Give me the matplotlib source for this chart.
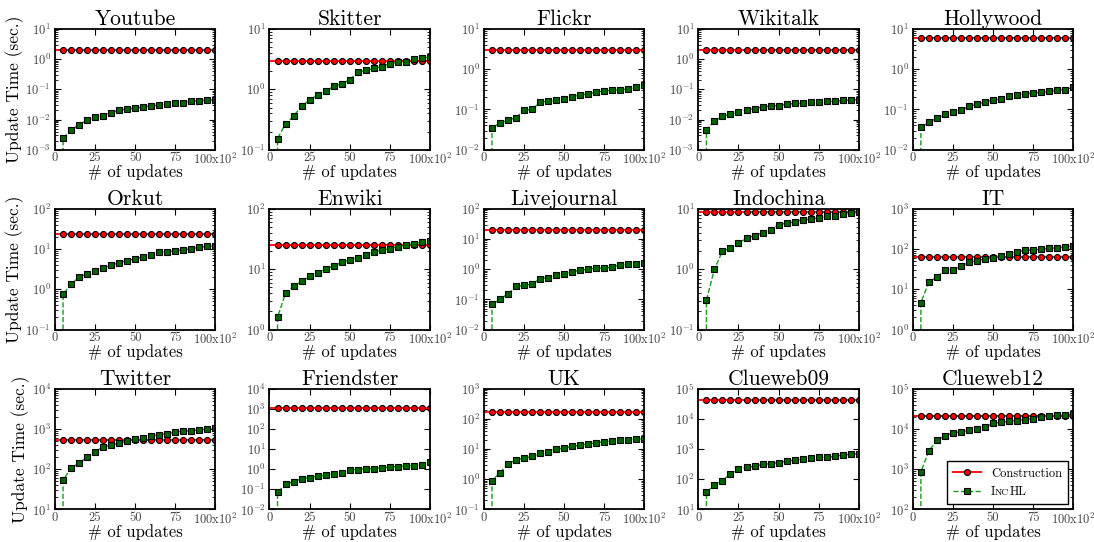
import numpy as np
import matplotlib
matplotlib.use("Agg")
import matplotlib.pyplot as plt
from matplotlib.ticker import LogLocator
from matplotlib.offsetbox import TextArea, HPacker

plt.rcParams["font.family"] = ["cmr10", "DejaVu Serif"]
plt.rcParams["mathtext.fontset"] = "cm"
plt.rcParams["axes.formatter.use_mathtext"] = True
plt.rcParams["axes.unicode_minus"] = False

# number of updates (x100)
updates = [0, 5, 10, 15, 20, 25, 30, 35, 40, 45, 50, 55, 60, 65, 70, 75, 80, 85, 90, 95, 100]

datasets = ["Youtube", "Skitter", "Flickr", "Wikitalk", "Hollywood",
            "Orkut", "Enwiki", "Livejournal", "Indochina", "IT",
            "Twitter", "Friendster", "UK", "Clueweb09", "Clueweb12"]

# construction time (sec.), constant over updates
construction = [2.05, 3.0, 3.0, 2.05, 5.9,
                24, 25, 19.4, 9.0, 65,
                545, 1080, 172, 44000, 20800]

# IncHL accumulated update time (sec.) at 5,10,...,100 (x100 updates)
inchl_youtube = [0.0024, 0.0045, 0.0068, 0.0095, 0.0117, 0.0136, 0.0171, 0.0205, 0.0222, 0.024,
                 0.026, 0.028, 0.030, 0.0316, 0.034, 0.036, 0.040, 0.042, 0.0437, 0.046]
inchl_skitter = [0.152, 0.27, 0.357, 0.53, 0.66, 0.82, 0.93, 1.12, 1.23, 1.45,
                 1.91, 2.06, 2.23, 2.38, 2.66, 2.8, 2.87, 3.14, 3.26, 3.43]
inchl_flickr = [0.035, 0.046, 0.054, 0.063, 0.096, 0.1, 0.15, 0.162, 0.168, 0.181,
                0.21, 0.227, 0.245, 0.27, 0.29, 0.3, 0.31, 0.32, 0.355, 0.4]
inchl_wikitalk = [0.0046, 0.0088, 0.0129, 0.015, 0.0175, 0.021, 0.023, 0.026, 0.028, 0.029,
                  0.032, 0.034, 0.034, 0.037, 0.037, 0.040, 0.040, 0.043, 0.044, 0.046]
inchl_hollywood = [0.036, 0.048, 0.061, 0.076, 0.088, 0.096, 0.119, 0.136, 0.155, 0.171,
                   0.18, 0.215, 0.228, 0.246, 0.256, 0.266, 0.28, 0.3, 0.31, 0.355]
inchl_orkut = [0.75, 1.33, 2.0, 2.46, 2.87, 3.35, 4.0, 4.6, 5.2, 5.7,
               6.4, 7.2, 8.25, 8.6, 9.1, 9.6, 10.2, 11.2, 11.7, 12.1]
inchl_enwiki = [1.6, 4.0, 5.2, 6.3, 7.6, 8.7, 10.0, 11.3, 13.0, 14.3,
                15.6, 17.3, 19.2, 20.5, 22.0, 23.5, 25.0, 26.5, 28.0, 29.0]
inchl_livejournal = [0.068, 0.1, 0.155, 0.27, 0.29, 0.32, 0.49, 0.53, 0.66, 0.7,
                     0.81, 0.93, 1.0, 1.08, 1.08, 1.17, 1.4, 1.47, 1.5, 1.58]
inchl_indochina = [0.31, 1.0, 2.0, 2.24, 2.7, 3.24, 3.6, 4.0, 4.4, 5.5,
                   5.8, 6.1, 6.6, 6.8, 7.1, 7.5, 7.7, 8.2, 8.5, 8.8]
inchl_it = [4.7, 15, 20.5, 29.5, 31, 37, 47, 52, 56, 61,
            67, 76, 86, 93, 96, 100, 104, 108, 115, 120]
inchl_twitter = [53, 108, 141, 200, 271, 362, 398, 447, 511, 552,
                 607, 668, 721, 764, 841, 874, 908, 944, 1000, 1039]
inchl_friendster = [0.07, 0.18, 0.24, 0.34, 0.38, 0.45, 0.52, 0.61, 0.68, 0.89,
                    0.96, 1.04, 1.08, 1.17, 1.3, 1.36, 1.47, 1.5, 1.6, 2.2]
inchl_uk = [0.9, 1.67, 3.2, 4.4, 5.0, 5.7, 7.4, 8.1, 10.0, 10.8,
            12.3, 13.6, 14.7, 16.3, 17.5, 18.5, 19.5, 20.5, 21.5, 22.0]
inchl_clueweb09 = [37, 66, 90, 155, 215, 250, 270, 310, 330, 360,
                   400, 430, 465, 500, 530, 540, 570, 650, 665, 700]
inchl_clueweb12 = [860, 2870, 5300, 6700, 8100, 8400, 9270, 10200, 11000, 13900,
                   14700, 15500, 16200, 17100, 18100, 20400, 21100, 21900, 22800, 23200]

inchl = [inchl_youtube, inchl_skitter, inchl_flickr, inchl_wikitalk, inchl_hollywood,
         inchl_orkut, inchl_enwiki, inchl_livejournal, inchl_indochina, inchl_it,
         inchl_twitter, inchl_friendster, inchl_uk, inchl_clueweb09, inchl_clueweb12]

# y-axis ranges (powers of ten)
ylims = [(-3, 1), (-1, 1), (-2, 1), (-3, 1), (-2, 1),
         (-1, 2), (0, 2), (-2, 2), (-1, 1), (0, 3),
         (1, 4), (-2, 4), (-1, 3), (1, 5), (2, 5)]

xticks = [0, 25, 50, 75, 100]
xticklabels = ["0", "25", "50", "75", r"100x$10^{2}$"]

fig, axes = plt.subplots(3, 5, figsize=(10.94, 5.42), dpi=100)
fig.subplots_adjust(left=0.0503, right=0.981, bottom=0.06, top=0.9465,
                    wspace=0.3375, hspace=0.49)

x = np.array(updates)
for i, ax in enumerate(axes.flat):
    c = np.full(len(x), construction[i])
    y = np.array([0.0] + inchl[i])  # 0 updates -> 0 sec.
    ax.plot(x, c, "-o", color="#ff1a1a", lw=1.5, ms=4.3, mfc="red", mec="black",
            mew=0.8, markevery=slice(1, None), label="Construction")
    ax.plot(x, y, "--s", color="#1a9a1a", lw=1.0, ms=4.5, mfc="#006400", mec="black",
            mew=0.8, markevery=slice(1, None), label="IncHL")
    ax.set_yscale("log")
    lo, hi = ylims[i]
    ax.set_ylim(10.0 ** lo, 10.0 ** hi)
    ax.yaxis.set_major_locator(LogLocator(base=10, numticks=20))
    ax.set_xlim(0, 100)
    ax.set_xticks(xticks)
    ax.set_xticklabels(xticklabels)
    ax.set_title(datasets[i], fontsize=15.5, pad=3)
    ax.set_xlabel("# of updates", fontsize=12)
    ax.xaxis.set_label_coords(0.5, -0.12)
    if i % 5 == 0:
        ax.set_ylabel("Update Time (sec.)", fontsize=12.5, labelpad=1)
    ax.tick_params(which="both", direction="in", top=True, right=True,
                   labelsize=9, labelcolor="#444444")
    ax.tick_params(axis="x", pad=1.5)
    ax.tick_params(axis="y", pad=3)
    ax.tick_params(which="major", length=4, width=0.8)
    ax.tick_params(which="minor", length=2, width=0.6)
    for s in ax.spines.values():
        s.set_linewidth(1.3)

ax = axes[2, 4]
leg = ax.legend(loc="lower right", fontsize=9, fancybox=False, edgecolor="black",
                framealpha=1, handlelength=2.2, borderpad=0.5, labelspacing=0.5,
                borderaxespad=0.4)
leg.get_frame().set_linewidth(1.0)

# small caps look for the IncHL entry
try:
    entry = leg._legend_handle_box.get_children()[0].get_children()[1]
    pieces = [TextArea("I", textprops=dict(fontsize=9)),
              TextArea("NC", textprops=dict(fontsize=7)),
              TextArea("HL", textprops=dict(fontsize=9))]
    parts = HPacker(children=pieces, align="baseline", pad=0, sep=0)
    for p in pieces + [parts]:
        p.set_figure(fig)
    for p in pieces:
        p._text.set_figure(fig)
    kids = entry.get_children()
    kids[1] = parts
    entry._children = kids
except Exception:
    pass

fig.savefig("out.png", dpi=100)
